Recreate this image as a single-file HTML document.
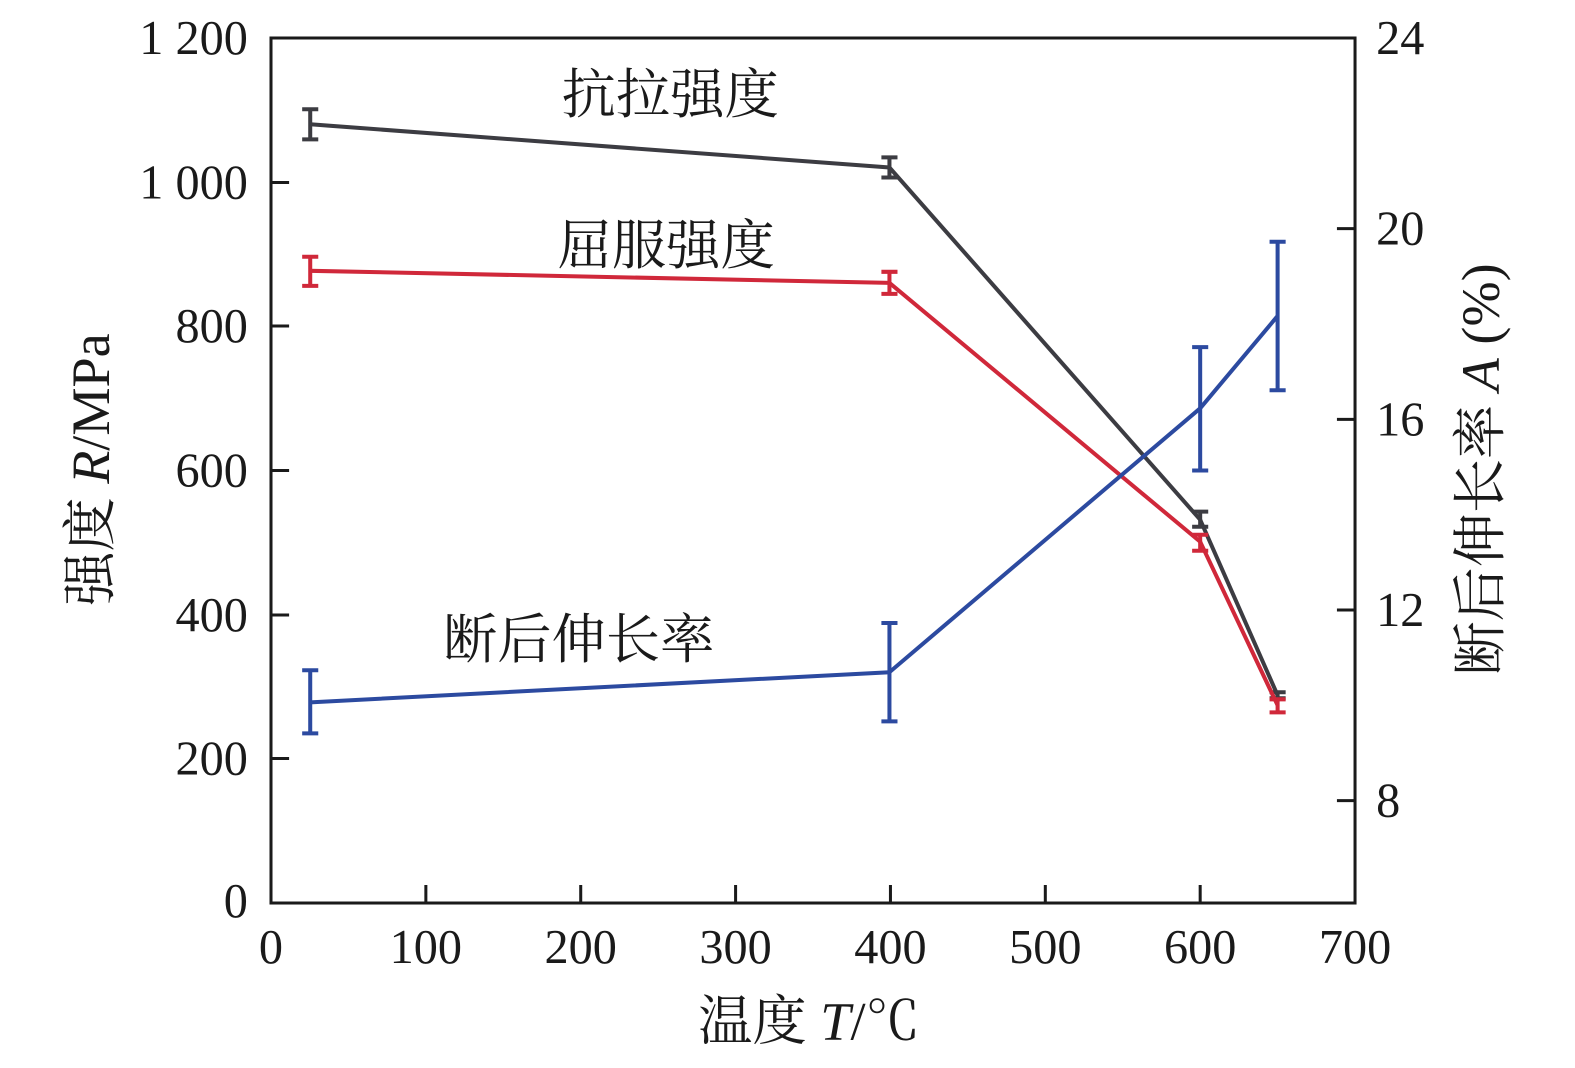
<!DOCTYPE html><html><head><style>body{margin:0;background:#fff}</style></head><body>
<svg width="1575" height="1063" xmlns="http://www.w3.org/2000/svg" font-family="'Liberation Serif','Noto Serif CJK SC',serif">
<rect width="1575" height="1063" fill="#fff"/>
<g transform="translate(271,38) scale(1.0056,1.0035) translate(-271,-38)">
<g stroke="#1a1a1a" stroke-width="3" fill="none">
<rect x="271" y="38" width="1078" height="862"/>
<path d="M425 900v-18M579 900v-18M733 900v-18M887 900v-18M1041 900v-18M1195 900v-18
M271 756h18M271 613h18M271 469h18M271 325h18M271 182h18
M1349 798h-18M1349 608h-18M1349 418h-18M1349 228h-18"/>
</g>
<g font-size="48" fill="#1a1a1a" text-anchor="end">
<text x="248" y="54">1 200</text><text x="248" y="198">1 000</text><text x="248" y="341">800</text>
<text x="248" y="485">600</text><text x="248" y="629">400</text><text x="248" y="772">200</text><text x="248" y="914">0</text>
</g>
<g font-size="48" fill="#1a1a1a" text-anchor="middle">
<text x="271" y="960">0</text><text x="425" y="960">100</text><text x="579" y="960">200</text><text x="733" y="960">300</text>
<text x="887" y="960">400</text><text x="1041" y="960">500</text><text x="1195" y="960">600</text><text x="1349" y="960">700</text>
</g>
<g font-size="48" fill="#1a1a1a">
<text x="1370" y="54">24</text><text x="1370" y="244">20</text><text x="1370" y="434">16</text><text x="1370" y="624">12</text><text x="1370" y="814">8</text>
</g>
<text x="806" y="1036" font-size="54" text-anchor="middle" fill="#1a1a1a">温度 <tspan font-style="italic">T</tspan>/℃</text>
<text transform="translate(110,468) rotate(-90)" font-size="54" text-anchor="middle" fill="#1a1a1a">强度 <tspan font-style="italic">R</tspan>/MPa</text>
<text transform="translate(1492,468) rotate(-90)" font-size="54" text-anchor="middle" fill="#1a1a1a">断后伸长率 <tspan font-style="italic">A</tspan> (%)</text>
<g font-size="54" fill="#1a1a1a">
<text x="560" y="113">抗拉强度</text><text x="556" y="263">屈服强度</text><text x="442" y="656">断后伸长率</text>
</g>
<g stroke="#3c3c42" stroke-width="4" fill="none">
<polyline points="310,124 886,167 1195,518 1272,693"/>
<path d="M310 109v30M302 109h16M302 139h16M886 157v20M878 157h16M878 177h16M1195 510v15M1187 510h16M1187 525h16M1272 690v6M1264 690h16M1264 696h16"/>
</g>
<g stroke="#d0283a" stroke-width="4" fill="none">
<polyline points="310,270 886,282 1195,540 1272,703"/>
<path d="M310 256v29M302 256h16M302 285h16M886 271v22M878 271h16M878 293h16M1195 533v16M1187 533h16M1187 549h16M1272 697v13M1264 697h16M1264 710h16"/>
</g>
<g stroke="#2c4aa0" stroke-width="4" fill="none">
<polyline points="310,700 886,670 1195,407 1272,315"/>
<path d="M310 668v63M302 668h16M302 731h16M886 621v98M878 621h16M878 719h16M1195 346v123M1187 346h16M1187 469h16M1272 241v148M1264 241h16M1264 389h16"/>
</g>
</g>
</svg>
</body></html>
